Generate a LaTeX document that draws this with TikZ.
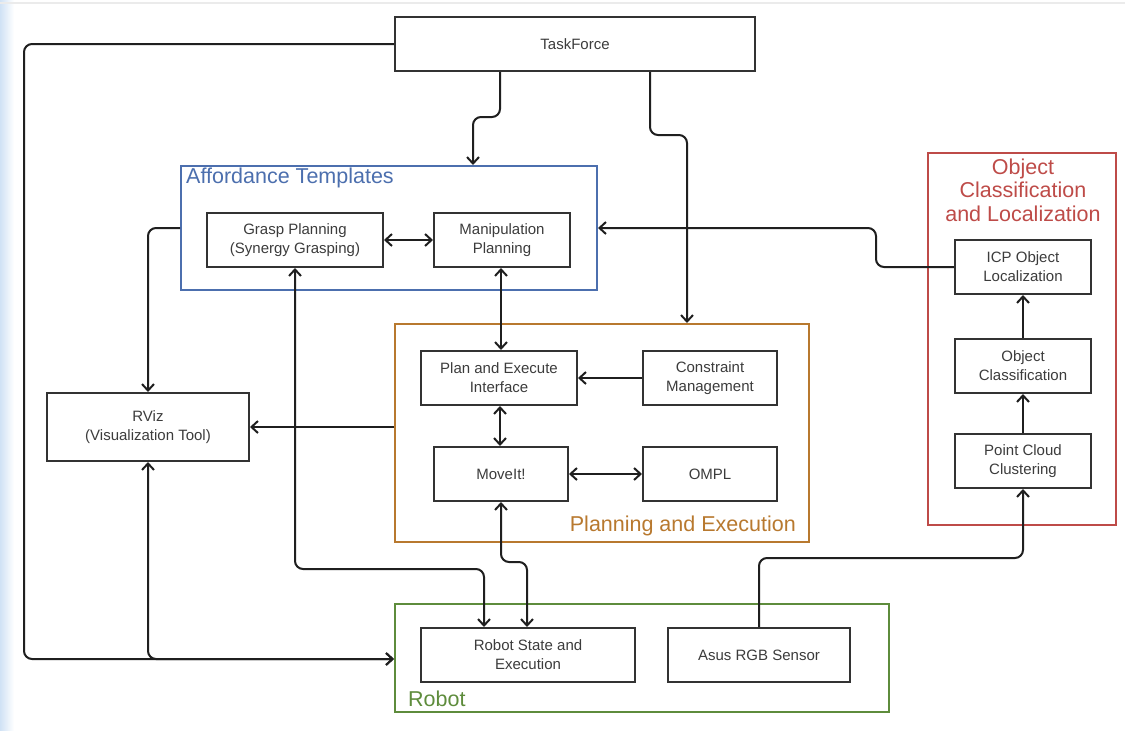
\documentclass[tikz,border=0pt]{standalone}
\usepackage{fontspec}
\setmainfont{Liberation Sans}
\usetikzlibrary{arrows.meta}
\definecolor{boxgray}{HTML}{333333}
\definecolor{txtgray}{HTML}{3C3C3C}
\definecolor{grpblue}{HTML}{4C6FAE}
\definecolor{grpred}{HTML}{BE4B48}
\definecolor{grporange}{HTML}{B8792F}
\definecolor{grpgreen}{HTML}{5E8C3C}
\definecolor{sideblue}{HTML}{D0E2F5}
\tikzset{
  box/.style={draw=boxgray, line width=2pt, text=txtgray, align=center, inner sep=0pt,
    font=\fontsize{15}{19}\selectfont},
  grp/.style={draw=#1, line width=2pt, inner sep=0pt},
  grplabel/.style={text=#1, inner sep=0pt, align=center, font=\fontsize{21.5}{23.5}\selectfont},
  conn/.style={line width=2pt, draw=black!88, rounded corners=8pt},
  tip/.style={-{Straight Barb[length=6.5pt,width=12pt,line width=2pt]}},
  tips/.style={{Straight Barb[length=6.5pt,width=12pt,line width=2pt]}-{Straight Barb[length=6.5pt,width=12pt,line width=2pt]}}
}
\begin{document}
\begin{tikzpicture}[x=1pt,y=-1pt]
\useasboundingbox (0,0) rectangle (1125,731);
\fill[white] (0,0) rectangle (1125,731);
\shade[left color=sideblue, right color=white] (0,0) rectangle (14,731);
\draw[black!8, line width=1.5pt] (0,3) -- (1125,3);

% groups
\node[grp=grpblue, minimum width=416pt, minimum height=124pt] (aff) at (389,228) {};
\node[grp=grpred, minimum width=188pt, minimum height=372pt] (ocl) at (1022,339) {};
\node[grp=grporange, minimum width=414pt, minimum height=218pt] (pe) at (602,433) {};
\node[grp=grpgreen, minimum width=494pt, minimum height=108pt] (robot) at (642,658) {};

\node[grplabel=grpblue, anchor=north west] (afflbl) at (186,168) {Affordance Templates};
\node[grplabel=grpred] (ocllbl) at (1023,190) {Object\\Classification\\and Localization};
\node[grplabel=grporange, anchor=base east] (pelbl) at (796,531) {Planning and Execution};
\node[grplabel=grpgreen, anchor=base west] (roblbl) at (408,706) {Robot};

% boxes
\node[box, minimum width=360pt, minimum height=54pt] (tf) at (575,44) {TaskForce};
\node[box, minimum width=176pt, minimum height=54pt] (grasp) at (295,240) {Grasp Planning\\(Synergy Grasping)};
\node[box, minimum width=136pt, minimum height=54pt] (manip) at (502,240) {Manipulation\\Planning};
\node[box, minimum width=136pt, minimum height=54pt] (icp) at (1023,267) {ICP Object\\Localization};
\node[box, minimum width=136pt, minimum height=54pt] (objc) at (1023,366) {Object\\Classification};
\node[box, minimum width=136pt, minimum height=54pt] (pcc) at (1023,461) {Point Cloud\\Clustering};
\node[box, minimum width=156pt, minimum height=54pt] (pei) at (499,378) {Plan and Execute\\Interface};
\node[box, minimum width=134pt, minimum height=54pt] (cm) at (710,378) {Constraint\\Management};
\node[box, minimum width=134pt, minimum height=54pt] (moveit) at (501,474) {MoveIt!};
\node[box, minimum width=134pt, minimum height=54pt] (ompl) at (710,474) {OMPL};
\node[box, minimum width=202pt, minimum height=68pt] (rviz) at (148,427) {RViz\\(Visualization Tool)};
\node[box, minimum width=214pt, minimum height=54pt] (rse) at (528,655) {Robot State and\\Execution};
\node[box, minimum width=182pt, minimum height=54pt] (asus) at (759,655) {Asus RGB Sensor};

% connectors
\draw[conn, tip] (tf.west) -- (24,44) -- (24,659) -- (robot.west |- 0,659);
\draw[conn, tips] (rviz.south) -- (148,659) -- (robot.west |- 0,659);
\draw[conn, tip] (500,0 |- tf.south) -- (500,117) -- (473,117) -- (473,0 |- aff.north);
\draw[conn, tip] (650,0 |- tf.south) -- (650,135) -- (687,135) -- (687,0 |- pe.north);
\draw[conn, tips] (grasp.east) -- (manip.west);
\draw[conn, tip] (aff.west) -- (148,228) -- (rviz.north);
\draw[conn, tip] (icp.west) -- (876,267) -- (876,228) -- (aff.east);
\draw[conn, tips] (501,0 |- manip.south) -- (501,0 |- pei.north);
\draw[conn, tip] (cm.west) -- (pei.east);
\draw[conn, tips] (500,0 |- pei.south) -- (500,0 |- moveit.north);
\draw[conn, tips] (moveit.east) -- (ompl.west);
\draw[conn, tip] (pe.west |- rviz.east) -- (rviz.east);
\draw[conn, tips] (295,0 |- grasp.south) -- (295,569) -- (484,569) -- (484,0 |- rse.north);
\draw[conn, tips] (501,0 |- moveit.south) -- (501,562) -- (527,562) -- (527,0 |- rse.north);
\draw[conn, tip] (asus.north) -- (759,558) -- (1023,558) -- (pcc.south);
\draw[conn, tip] (pcc.north) -- (objc.south);
\draw[conn, tip] (objc.north) -- (icp.south);
\end{tikzpicture}
\end{document}
